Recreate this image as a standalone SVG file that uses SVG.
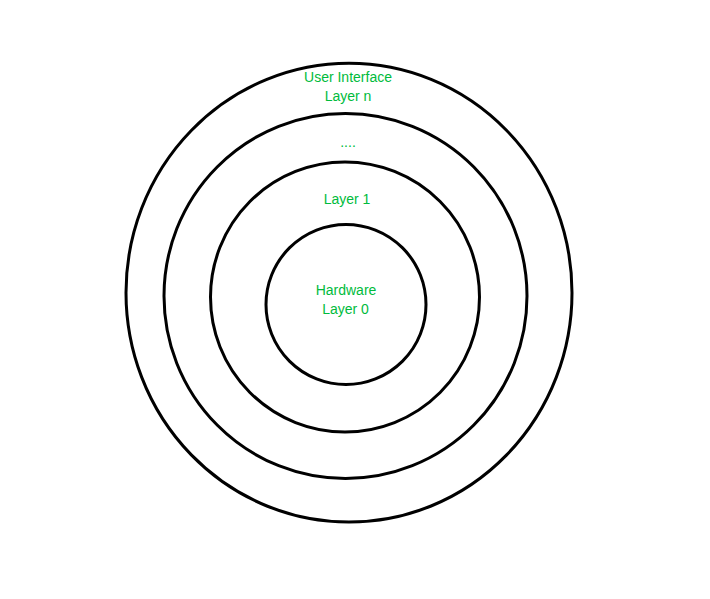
<svg xmlns="http://www.w3.org/2000/svg" width="710" height="599" viewBox="0 0 710 599">
<style>
.ring{fill:none;stroke:#000;stroke-width:3}
.lbl{font-family:"Liberation Sans",Arial,sans-serif;font-size:14px;fill:#00bb3c;text-anchor:middle}
</style>
<rect width="710" height="599" fill="#fff"/>
<g id="layer-outer">
<ellipse class="ring" cx="349" cy="292.7" rx="223" ry="229.4"/>
<text class="lbl" x="348" y="82">User Interface</text>
<text class="lbl" x="348" y="101">Layer n</text>
</g>
<g id="layer-mid">
<ellipse class="ring" cx="345.5" cy="296" rx="181.5" ry="182.5"/>
<text class="lbl" x="348" y="147">....</text>
</g>
<g id="layer-1">
<ellipse class="ring" cx="345" cy="297" rx="134.5" ry="135"/>
<text class="lbl" x="347" y="204">Layer 1</text>
</g>
<g id="layer-0">
<circle class="ring" cx="346" cy="304.5" r="80"/>
<text class="lbl" x="346" y="295">Hardware</text>
<text class="lbl" x="345.5" y="314">Layer 0</text>
</g>
</svg>
